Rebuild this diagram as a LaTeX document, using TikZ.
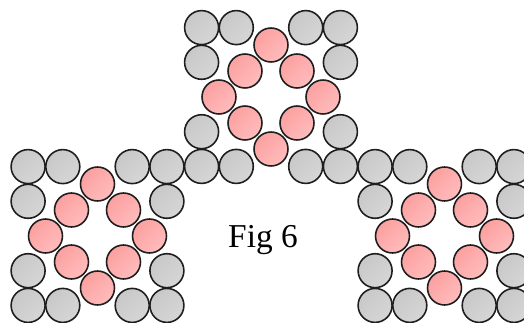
\documentclass[tikz,border=0pt]{standalone}
\usepackage{fontspec}
\setmainfont{Liberation Serif}
\definecolor{beadgray}{RGB}{200,200,200}
\definecolor{beadgraylight}{RGB}{214,214,214}
\definecolor{beadpink}{RGB}{252,160,160}
\definecolor{beadpinklight}{RGB}{255,188,188}
\definecolor{beadline}{RGB}{30,30,30}
\begin{document}
\begin{tikzpicture}[x=0.02cm, y=-0.02cm,
  bead/.style={circle, draw=beadline, line width=0.9pt, inner sep=0pt, minimum size=0.68cm},
  graybead/.style={bead, top color=beadgray, bottom color=beadgraylight, shading angle=45},
  pinkbead/.style={bead, top color=beadpink, bottom color=beadpinklight, shading angle=45}]
\useasboundingbox (0,0) rectangle (524,322);

% the three squares: grey corners, pink ring inside
\foreach \name/\cx/\cy in {top/271/97, left/97.5/236, right/444.5/236} {
  \foreach \dx/\dy [count=\i] in {-69.4/-69.4, -34.7/-69.4, 34.7/-69.4, 69.4/-69.4,
      -69.4/-34.7, 69.4/-34.7, -69.4/34.7, 69.4/34.7,
      -69.4/69.4, -34.7/69.4, 34.7/69.4, 69.4/69.4}
    \node[graybead] (g-\name-\i) at (\cx+\dx, \cy+\dy) {};
  \foreach \dx/\dy [count=\i] in {0/-52, 26/-26, 52/0, 26/26, 0/52, -26/26, -52/0, -26/-26}
    \node[pinkbead] (p-\name-\i) at (\cx+\dx, \cy+\dy) {};
}

\node[font=\fontsize{19}{22}\selectfont, anchor=base] (caption) at (263,247) {Fig 6};
\end{tikzpicture}
\end{document}
